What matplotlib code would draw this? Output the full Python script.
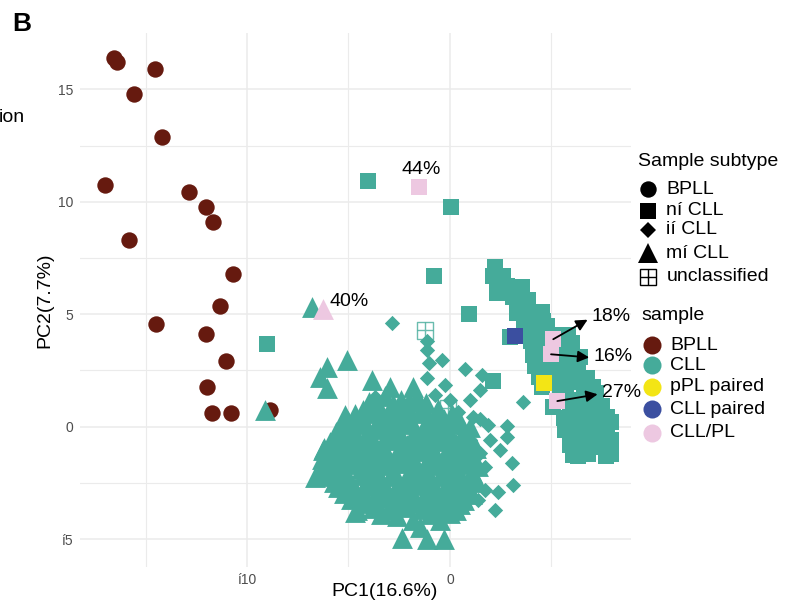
import matplotlib
matplotlib.use('Agg')
import matplotlib.pyplot as plt

plt.rcParams['font.family'] = ['Liberation Sans', 'DejaVu Sans']

# ---- data -------------------------------------------------------------
# BPLL samples (circles)
bpll_x = [-16.54, -16.39, -14.53, -15.57, -14.19, -17.01, -12.86, -12.02, -11.66, -15.81,
          -10.67, -11.32, -14.47, -12.00, -11.03, -11.96, -11.74, -10.77, -8.87]
bpll_y = [16.39, 16.21, 15.90, 14.79, 12.87, 10.74, 10.45, 9.79, 9.12, 8.32,
          6.79, 5.37, 4.56, 4.11, 2.91, 1.75, 0.60, 0.60, 0.74]

# CLL, n-CLL subtype (squares)
ncll_x = [2.22, 2.12, 2.32, 2.81, 3.55, 2.32, 3.10, 3.30, 3.94, 4.53, 3.79, 4.58, 3.65, 2.96,
          4.09, 5.02, 4.29, 6.01, 5.42, 4.09, 5.91, 4.19, 4.83, 6.31, 6.75, 4.93, 4.53, 5.42,
          7.04, 5.07, 5.91, 7.24, 6.06, 6.90, 7.73, 6.26, 7.73, 5.91, 7.73, 6.06, 7.68, 6.65,
          6.90, 5.52, 5.22, 4.43, 3.84, 5.67,
          7.95, 7.95, 7.95, 7.50, 6.40, 7.10, 6.80, 6.40, 6.60, 6.00, 5.80, 6.40, 5.50, 4.70,
          4.40, 3.40, 2.60, 5.80, 7.40, 6.90, 5.60,
          4.40, 5.60, 6.00, 6.50, 6.10, 6.70, 7.40, 7.00, 6.20, 5.90, 6.50, 7.60, 6.30, 5.00,
          4.60, 5.30, 4.00, 4.80, 5.70, 7.20,
          2.12, 0.94, -0.79, 0.05, -4.04, -9.01]
ncll_y = [7.10, 6.70, 6.35, 6.26, 6.22, 5.95, 5.77, 5.06, 5.10, 5.10, 4.88, 4.70, 4.39, 3.99,
          4.17, 4.08, 3.55, 3.72, 3.63, 3.19, 3.14, 2.70, 2.61, 2.61, 2.17, 2.08, 1.77, 1.72,
          1.77, 0.88, 0.88, 0.88, 0.30, 0.39, 0.43, -0.28, -0.15, -0.81, -0.86, -1.26, -1.31, -0.59,
          1.19, 1.41, 2.88, 3.86, 5.64, -0.15,
          0.20, -0.60, -1.20, 0.90, 0.00, -0.50, -1.20, 0.90, 1.60, 2.00, 2.60, 3.10, 3.10, 3.40,
          4.40, 5.40, 6.70, 4.10, 0.00, -0.60, 0.40,
          2.20, 2.30, 3.00, 2.00, 1.20, 1.00, 0.30, -0.20, 0.40, -0.40, -0.30, -0.90, -1.30, 3.60,
          2.20, 2.30, 3.80, 4.50, 1.90, 1.50,
          2.03, 5.01, 6.70, 9.77, 10.93, 3.68]

# CLL, i-CLL subtype (diamonds)
icll_x = [-2.86, -1.13, -1.13, -1.03, -0.39, -1.13, 0.74, 1.58, 1.48, 3.60, 2.81, 2.81, 3.05, 3.10,
          2.22, 2.36, 1.48, 1.72, 0.00, 0.39, 1.13, 1.48, -3.69, -3.79, -3.45, 0.99, 1.87, 1.97,
          0.99, 0.49, 0.74, 1.38, 0.99, 0.25, -0.49, -2.46, -1.48, -2.71, -0.74, -0.25, 1.72, 2.46]
icll_y = [4.61, 3.81, 3.41, 2.83, 2.97, 2.17, 2.57, 2.30, 1.63, 1.10, 0.03, -0.46, -1.62, -2.59,
          -3.71, -2.91, -1.17, -1.79, 1.19, 0.65, 0.43, 0.34, 1.32, 1.05, 0.65, 1.19, 0.08, -0.59,
          -0.59, -0.15, -1.70, -3.26, -2.59, -1.93, 0.30, 0.74, 0.97, 0.30, 1.41, 1.85, -2.82, -1.04]

# CLL, m-CLL subtype (triangles)
mcll_x = [-6.07, -5.09, -6.40, -6.04, -3.84, -2.93, -1.82, -5.17, -9.11, -6.82, -2.36, -1.13,
          -0.30, -4.58, -6.31, -6.26, -5.42, -6.65, -4.68, -1.82, -1.48, -0.49, 0.00,
          -3.2, -2.4, -1.6, -4.0,
          -3.6, -2.8, -2.0, -1.2,
          -4.3, -3.6, -2.9, -2.1, -1.3, -0.6,
          -4.7, -3.9, -3.1, -2.3, -1.5, -0.7, 0.1,
          -5.0, -4.3, -3.5, -2.7, -1.9, -1.1, -0.3, 0.5,
          -5.3, -4.5, -3.7, -2.9, -2.1, -1.3, -0.5, 0.3, 1.0,
          -5.6, -4.9, -4.1, -3.3, -2.5, -1.7, -0.9, -0.1, 0.7,
          -5.6, -4.8, -4.0, -3.2, -2.4, -1.6, -0.8, 0.0, 0.8,
          -5.9, -5.2, -4.5, -3.7, -2.9, -2.1, -1.3, -0.5, 0.3, 1.0,
          -6.2, -5.5, -4.8, -4.1, -3.3, -2.5, -1.7, -0.9, -0.1, 0.6, 1.3,
          -6.0, -5.3, -4.6, -3.9, -3.1, -2.3, -1.5, -0.7, 0.1, 0.9,
          -6.3, -5.6, -4.9, -4.2, -3.5, -2.7, -1.9, -1.1, -0.3, 0.5, 1.2,
          -6.2, -5.5, -4.8, -4.0, -3.2, -2.4, -1.6, -0.8, 0.0, 0.8, 1.4,
          -6.0, -5.2, -4.4, -3.6, -2.8, -2.0, -1.2, -0.4, 0.4, 1.1,
          -5.8, -5.1, -4.3, -3.5, -2.7, -1.9, -1.1, -0.3, 0.5, 1.2,
          -5.7, -4.9, -4.1, -3.3, -2.5, -1.7, -0.9, -0.1, 0.7, 1.3,
          -5.5, -4.7, -3.9, -3.1, -2.3, -1.5, -0.7, 0.1, 0.9,
          -5.2, -4.4, -3.6, -2.8, -2.0, -1.2, -0.4, 0.4, 1.1,
          -4.9, -4.1, -3.3, -2.5, -1.7, -0.9, -0.1, 0.7,
          -4.4, -3.6, -2.8, -2.0, -1.2, -0.4, 0.5,
          -3.8, -3.0, -2.2, -1.4, -0.6, 0.3,
          -3.4, -2.6, -1.0]
mcll_y = [2.67, 2.97, 2.22, 1.71, 2.08, 1.78, 1.78, 0.52, 0.74, 5.32, -4.95, -5.00,
          -5.00, -3.71, -2.06, -1.04, -0.28, -2.24, -3.80, -4.15, -4.46, -4.15, -3.84,
          1.35, 1.20, 1.30, 1.10,
          1.05, 1.00, 1.10, 1.05,
          0.75, 0.85, 0.70, 0.90, 0.75, 0.80,
          0.55, 0.60, 0.50, 0.55, 0.60, 0.50, 0.55,
          0.25, 0.35, 0.20, 0.40, 0.25, 0.30, 0.35, 0.20,
          0.05, 0.10, 0.00, 0.05, 0.10, 0.00, 0.05, 0.10, 0.00,
          -0.25, -0.15, -0.30, -0.10, -0.25, -0.20, -0.30, -0.15, -0.20,
          -0.45, -0.50, -0.40, -0.50, -0.45, -0.40, -0.50, -0.45, -0.45,
          -0.70, -0.80, -0.65, -0.75, -0.60, -0.80, -0.70, -0.65, -0.75, -0.70,
          -0.95, -1.00, -0.90, -1.00, -0.95, -1.00, -0.90, -1.00, -0.95, -1.00, -0.95,
          -1.20, -1.30, -1.15, -1.25, -1.20, -1.30, -1.10, -1.25, -1.20, -1.30,
          -1.45, -1.50, -1.40, -1.50, -1.45, -1.40, -1.50, -1.45, -1.50, -1.40, -1.45,
          -1.70, -1.75, -1.65, -1.80, -1.70, -1.60, -1.75, -1.70, -1.80, -1.65, -1.75,
          -1.95, -2.00, -1.90, -2.00, -1.95, -2.00, -1.90, -2.00, -1.95, -2.00,
          -2.20, -2.30, -2.15, -2.25, -2.20, -2.30, -2.15, -2.20, -2.30, -2.20,
          -2.45, -2.50, -2.40, -2.50, -2.45, -2.40, -2.50, -2.45, -2.50, -2.45,
          -2.70, -2.75, -2.65, -2.80, -2.70, -2.60, -2.75, -2.70, -2.80,
          -2.95, -3.00, -2.90, -3.00, -2.95, -2.90, -3.00, -2.95, -3.00,
          -3.20, -3.30, -3.15, -3.25, -3.20, -3.30, -3.15, -3.25,
          -3.40, -3.45, -3.35, -3.40, -3.45, -3.40, -3.45,
          -3.60, -3.70, -3.55, -3.65, -3.60, -3.70,
          -3.90, -3.95, -3.90]

# CLL, unclassified subtype
uncl_x = [-1.23, -3.25, -0.10]
uncl_y = [4.29, 0.16, 0.83]

# paired / transformed samples drawn on top
hl_x = [-1.51, -6.24, 5.09, 4.98, 5.29, 4.65, 3.22]
hl_y = [10.65, 5.22, 3.89, 3.22, 1.14, 1.93, 4.02]
hl_shape = ['s', '^', 's', 's', 's', 's', 's']
hl_sample = ['CLL/PL', 'CLL/PL', 'CLL/PL', 'CLL/PL', 'CLL/PL', 'pPL paired', 'CLL paired']
hl_pct = ['44%', '40%', '18%', '16%', '27%', '', '']

subtype_labels = ['BPLL', 'ní CLL', 'ií CLL', 'mí CLL', 'unclassified']
subtype_markers = ['o', 's', 'D', '^', 'uncl']
sample_labels = ['BPLL', 'CLL', 'pPL paired', 'CLL paired', 'CLL/PL']
sample_colors = ['#661A0F', '#45AB9A', '#F3E515', '#3B4FA0', '#EDC8E1']
col = dict(zip(sample_labels, sample_colors))

# marker sizes (points)
MS = {'o': 11.8, 's': 12.0, 'D': 7.8, '^': 15.0}

fig = plt.figure(figsize=(7.85, 6.05), dpi=100)
ax = fig.add_axes([0.1019, 0.0628, 0.7019, 0.8827])

ax.scatter(bpll_x, bpll_y, s=MS['o'] ** 2, marker='o', color=col['BPLL'], linewidths=0, zorder=3)
# unclassified: hollow square with a cross
ax.scatter(uncl_x, uncl_y, s=MS['s'] ** 2, marker='s', facecolors='none',
           edgecolors=col['CLL'], linewidths=1.0, zorder=3, alpha=0.8)
ax.scatter(uncl_x, uncl_y, s=MS['s'] ** 2, marker='+', color=col['CLL'],
           linewidths=1.0, zorder=3, alpha=0.8)
ax.scatter(ncll_x, ncll_y, s=MS['s'] ** 2, marker='s', color=col['CLL'], linewidths=0, zorder=3)
ax.scatter(icll_x, icll_y, s=MS['D'] ** 2, marker='D', color=col['CLL'], linewidths=0, zorder=3)
ax.scatter(mcll_x, mcll_y, s=MS['^'] ** 2, marker='^', color=col['CLL'], linewidths=0, zorder=3)

for x, y, m, smp in zip(hl_x, hl_y, hl_shape, hl_sample):
    ax.scatter([x], [y], s=MS[m] ** 2, marker=m, color=col[smp], linewidths=0, zorder=4)

# percentage labels
offsets = {'44%': (1.2, 12.5), '40%': (4.8, 5.5),
           '18%': (27.6, 16.3), '16%': (30.5, -1.9), '27%': (32.0, 6.0)}
for x, y, p in zip(hl_x, hl_y, hl_pct):
    if not p:
        continue
    dx, dy = offsets[p]
    if p == '44%':
        ax.annotate(p, (x, y), xytext=(dx, dy), textcoords='offset points',
                    ha='center', va='center', fontsize=14, zorder=5)
    elif p == '40%':
        ax.annotate(p, (x, y), xytext=(dx, dy), textcoords='offset points',
                    ha='left', va='center', fontsize=14, zorder=5)
    else:
        ax.annotate(p, (x, y), xytext=(dx, dy), textcoords='offset points',
                    ha='left', va='center', fontsize=14, zorder=5,
                    arrowprops=dict(arrowstyle='<|-', color='black', lw=1.3,
                                    mutation_scale=17, shrinkA=1, shrinkB=0,
                                    relpos=(0, 0.45)))

# axes styling
ax.set_xlim(-18.23, 8.92)
ax.set_ylim(-6.24, 17.51)
ax.set_xticks([-10, 0])
ax.set_xticklabels(['í10', '0'])
ax.set_xticks([-15, -5, 5], minor=True)
ax.set_yticks([-5, 0, 5, 10, 15])
ax.set_yticklabels(['í5', '0', '5', '10', '15'])
ax.set_yticks([-2.5, 2.5, 7.5, 12.5], minor=True)
ax.tick_params(which='both', length=0, labelsize=10, labelcolor='#4D4D4D')
ax.tick_params(axis='x', pad=4)
ax.tick_params(axis='y', pad=5)
ax.grid(which='major', color='#EBEBEB', lw=1.1)
ax.grid(which='minor', color='#EBEBEB', lw=0.8)
ax.set_axisbelow(True)
for sp in ax.spines.values():
    sp.set_visible(False)

ax.set_xlabel('PC1(16.6%)', fontsize=14)
ax.set_ylabel('PC2(7.7%)', fontsize=14)
ax.xaxis.set_label_coords(0.552, -0.030)
ax.yaxis.set_label_coords(-0.049, 0.5)

# ---- legends, laid out in pixel space on an overlay axes ----------------
lax = fig.add_axes([0, 0, 1, 1])
lax.set_xlim(0, 785)
lax.set_ylim(605, 0)
lax.axis('off')

lax.text(638, 161.5, 'Sample subtype', fontsize=14, va='center', ha='left')
rows1 = [189, 210.5, 229.5, 253, 276.5]
for yy, m, lab in zip(rows1, subtype_markers, subtype_labels):
    if m == 'uncl':
        lax.plot([647.5], [yy], ls='', marker='s', ms=MS['s'], mfc='none', mec='black', mew=1.0)
        lax.plot([647.5], [yy], ls='', marker='+', ms=MS['s'], color='black', mew=1.0)
    else:
        lax.plot([647.5], [yy], ls='', marker=m, ms=MS[m] * (0.95 if m == '^' else 1.0),
                 color='black', mew=0)
    lax.text(666.5, yy, lab, fontsize=14, va='center', ha='left')

lax.text(641.5, 315, 'sample', fontsize=14, va='center', ha='left')
rows2 = [345, 365, 386.5, 409, 432.5]
for yy, c, lab in zip(rows2, sample_colors, sample_labels):
    lax.plot([652.3], [yy], ls='', marker='o', ms=13, color=c, mew=0)
    lax.text(670, yy, lab, fontsize=14, va='center', ha='left')

lax.text(12, 24, 'B', fontsize=19, fontweight='bold', va='center', ha='left')
lax.text(-1, 118, 'ion', fontsize=14, va='center', ha='left')

fig.savefig('out.png', dpi=100)
